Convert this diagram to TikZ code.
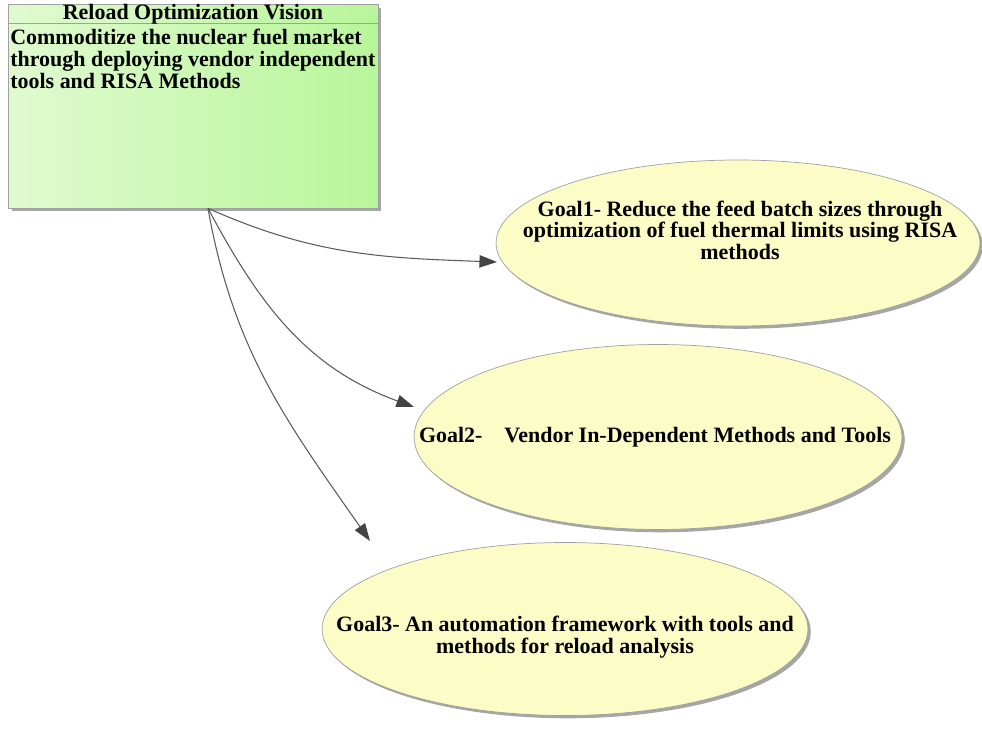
\documentclass[tikz,border=0pt]{standalone}
\usepackage{fontspec}
\setmainfont{Liberation Serif}
\usetikzlibrary{arrows.meta,positioning,shapes.geometric,shadows}
\definecolor{greenL}{RGB}{224,250,208}
\definecolor{greenR}{RGB}{184,246,154}
\definecolor{goalfill}{RGB}{252,252,198}
\definecolor{edge}{HTML}{A0A0A0}
\definecolor{wire}{HTML}{5A5A5A}
\definecolor{tipc}{HTML}{444444}

\begin{document}
\begin{tikzpicture}[x=0.02cm,y=0.02cm,
  txt/.style={font=\fontsize{12.5}{12.3}\selectfont\bfseries},
  visbox/.style={draw=edge,left color=greenL,right color=greenR,inner sep=0pt,
    minimum width=7.4cm,minimum height=4.08cm,
    drop shadow={shadow xshift=2pt,shadow yshift=-2pt,fill=gray!70,opacity=1}},
  goal/.style={ellipse,draw=edge,fill=goalfill,inner sep=0pt,
    drop shadow={shadow xshift=1.6pt,shadow yshift=-1.6pt,fill=gray!70,opacity=1}},
  goaltext/.style={txt,align=center,inner sep=0pt},
  link/.style={wire,line width=0.6pt,-{Triangle[length=10pt,width=7pt,color=tipc]}}]
  \useasboundingbox (0,0) rectangle (982,733);
  % vision box
  \node[visbox] (vis) at (193,627) {};
  \draw[edge] ([yshift=-0.4cm]vis.north west) -- ([yshift=-0.4cm]vis.north east);
  \node[txt] (vistitle) at (193,719) {Reload Optimization Vision};
  \node[txt,align=left,anchor=north west,inner sep=0pt] (vistext) at (10,704)
       {Commoditize the nuclear fuel market\\
        through deploying vendor independent\\
        tools and RISA Methods};
  % goals
  \node[goal,minimum width=9.68cm,minimum height=3.32cm] (g1) at (738,490) {};
  \node[goaltext] (g1text) at ([shift={(2,13)}]g1.center)
       {Goal1- Reduce the feed batch sizes through\\
        optimization of fuel thermal limits using RISA\\
        methods};
  \node[goal,minimum width=9.76cm,minimum height=3.7cm] (g2) at (658,296) {};
  \node[goaltext] (g2text) at ([shift={(-3,0)}]g2.center)
       {Goal2-\quad Vendor In-Dependent Methods and Tools};
  \node[goal,minimum width=9.72cm,minimum height=3.46cm] (g3) at (565,104) {};
  \node[goaltext] (g3text) at ([shift={(0,-8)}]g3.center)
       {Goal3- An automation framework with tools and\\
        methods for reload analysis};
  % links
  \coordinate (src) at ([xshift=0.3cm]vis.south);
  \draw[link] (src) to[out=-24,in=178] ([shift={(-241,-19)}]g1.center);
  \draw[link] (src) to[out=-62,in=160] ([shift={(-244,30)}]g2.center);
  \draw[link] (src) to[out=-80,in=125] ([shift={(-195,88)}]g3.center);
\end{tikzpicture}
\end{document}
